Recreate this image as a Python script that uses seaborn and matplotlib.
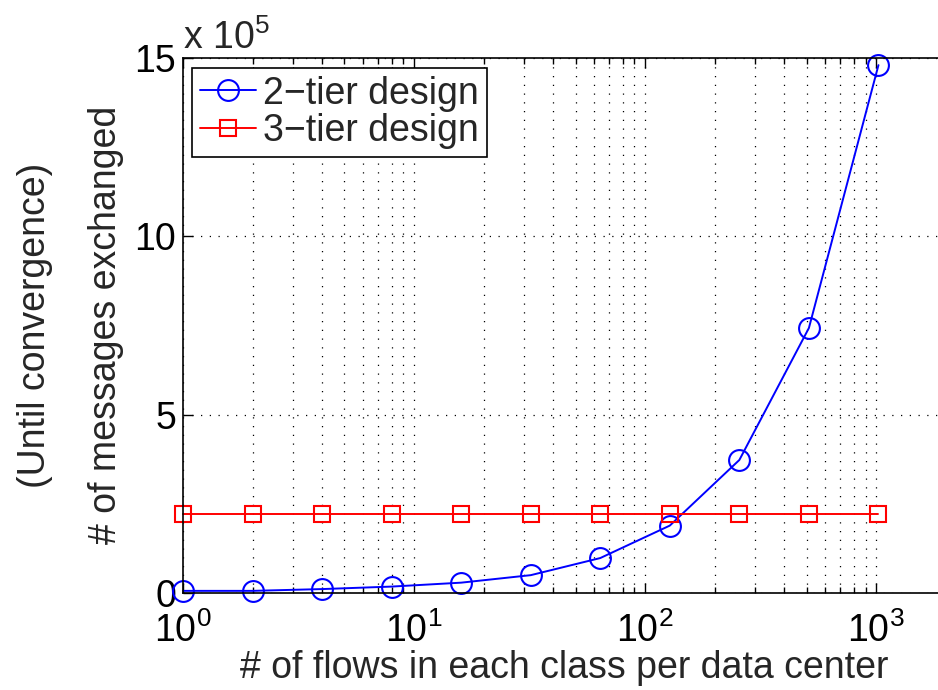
import numpy as np
import pandas as pd
import matplotlib
matplotlib.use("Agg")
import matplotlib.pyplot as plt
import seaborn as sns
from matplotlib.ticker import FuncFormatter, FixedLocator, LogLocator
from matplotlib.lines import Line2D

flows = [1, 2, 4, 8, 16, 32, 64, 128, 256, 512, 1024]
two_tier = [6000, 6000, 11000, 18000, 29000, 50000, 98000, 189000, 373000, 743000, 1480000]
three_tier = [221000] * 11
series_names = ["2\u2212tier design", "3\u2212tier design"]
y_ticks = [0, 500000, 1000000, 1500000]

sns.set_style("ticks")
plt.rcParams['font.family'] = ['Liberation Sans', 'DejaVu Sans']
plt.rcParams['mathtext.fontset'] = 'custom'
plt.rcParams['mathtext.rm'] = 'Liberation Sans'
plt.rcParams['mathtext.it'] = 'Liberation Sans'

df = pd.DataFrame({
    "flows": flows * 2,
    "msgs": two_tier + three_tier,
    "design": [series_names[0]] * len(flows) + [series_names[1]] * len(flows),
})

W, H = 938, 690
fig = plt.figure(figsize=(W / 100, H / 100), dpi=100)
ax = fig.add_axes([183 / W, (H - 593) / H, (948 - 183) / W, (593 - 58) / H])

sns.lineplot(data=df, x="flows", y="msgs", hue="design", style="design",
             palette={series_names[0]: "#0000ff", series_names[1]: "#ff0000"},
             markers={series_names[0]: "o", series_names[1]: "s"},
             dashes=False, ax=ax, linewidth=1.4, legend=False)
for line, ms in zip(ax.lines, [15, 11]):
    line.set_markersize(ms)
    line.set_markerfacecolor("none")
    line.set_markeredgewidth(1.5)
    line.set_markeredgecolor(line.get_color())
    line.set_clip_on(False)

ax.set_xscale("log")
ax.set_xlim(1, 2048)
ax.set_ylim(0, 1500000)
ax.yaxis.set_major_locator(FixedLocator(y_ticks))
ax.yaxis.set_major_formatter(FuncFormatter(lambda v, p: f"{v / 1e5:g}"))
ax.xaxis.set_major_locator(LogLocator(base=10, numticks=10))
ax.xaxis.set_minor_locator(LogLocator(base=10, subs=np.arange(2, 10), numticks=20))

ax.grid(True, which="major", axis="both", color="black", linestyle=(0, (1, 6)), linewidth=0.9)
ax.grid(True, which="minor", axis="x", color="black", linestyle=(0, (1, 6)), linewidth=0.9)
ax.set_axisbelow(True)

for s in ["left", "bottom", "top"]:
    ax.spines[s].set_visible(True)
    ax.spines[s].set_linewidth(1.2)
    ax.spines[s].set_color("black")
ax.spines["right"].set_visible(False)

ax.tick_params(axis="both", which="both", direction="in", top=True, right=False,
               labelsize=27, colors="black")
ax.tick_params(axis="both", which="major", length=7, width=1)
ax.tick_params(axis="x", which="minor", length=4, width=1)
ax.tick_params(axis="x", which="major", pad=14)
ax.tick_params(axis="y", which="major", pad=5)

ax.set_xlabel("")
ax.set_ylabel("")

fig.text(564 / W, 1 - 668 / H, "# of flows in each class per data center",
         ha="center", va="center", fontsize=27)
fig.text(35 / W, 1 - 325 / H, "(Until convergence)", rotation=90,
         ha="center", va="center", fontsize=27)
fig.text(106 / W, 1 - 325 / H, "# of messages exchanged", rotation=90,
         ha="center", va="center", fontsize=27)
fig.text(183 / W, 1 - 38 / H, r"x 10$^{5}$", ha="left", va="center", fontsize=27)

handles = [Line2D([], [], color="#0000ff", marker="o", markersize=15, markerfacecolor="none",
                  markeredgewidth=1.5, linewidth=1.4),
           Line2D([], [], color="#ff0000", marker="s", markersize=11, markerfacecolor="none",
                  markeredgewidth=1.5, linewidth=1.4)]
leg = ax.legend(handles, series_names, loc="upper left", bbox_to_anchor=(192 / W, 1 - 68 / H),
                bbox_transform=fig.transFigure, fontsize=27, frameon=True, fancybox=False,
                borderpad=0.2, handlelength=1.5, handletextpad=0.2, labelspacing=0.05,
                borderaxespad=0)
leg.get_frame().set_edgecolor("black")
leg.get_frame().set_linewidth(1.2)
leg.get_frame().set_alpha(1)

fig.savefig("out.png", dpi=100)
